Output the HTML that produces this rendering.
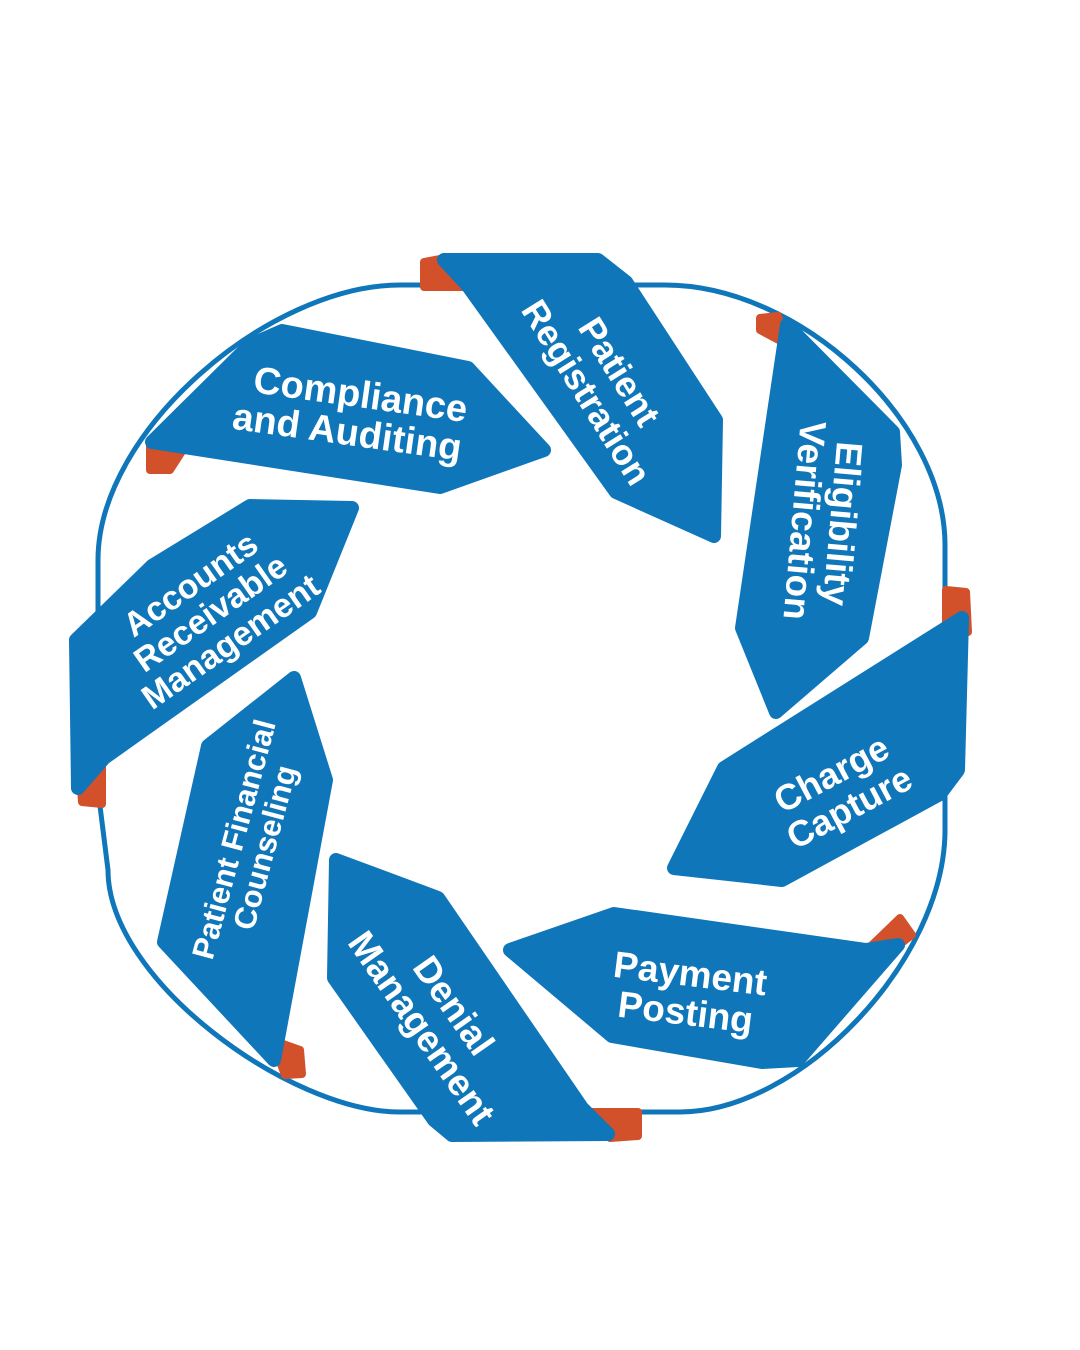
<!DOCTYPE html>
<html><head><meta charset="utf-8"><style>
html,body{margin:0;padding:0;background:#fff;}
svg{display:block;}
text{font-family:"Liberation Sans",sans-serif;font-weight:bold;fill:#fff;text-anchor:middle;}
</style></head><body>
<svg width="1080" height="1350" viewBox="0 0 1080 1350" xmlns="http://www.w3.org/2000/svg">
<path d="M400,285 L665,285 C800,285 945,420 945,545 L945,830 C945,960 800,1112 680,1112 L400,1112 C290,1112 108,980 108,870 L98,790 L98,560 C98,430 270,285 400,285 Z" fill="none" stroke="#0f76ba" stroke-width="5"/>
<g fill="#d2502a" stroke="#d2502a" stroke-width="8" stroke-linejoin="round">
<polygon points="424,262 445,258 466,287 424,287"/>
<polygon points="760,318 778,316 788,345 760,330"/>
<polygon points="946,590 966,592 968,632 946,632"/>
<polygon points="872,945 900,918 912,935 895,948"/>
<polygon points="592,1112 638,1112 638,1136 610,1138"/>
<polygon points="272,1040 300,1050 302,1074 285,1075"/>
<polygon points="80,775 102,762 102,804 82,802"/>
<polygon points="150,445 188,442 170,470 150,470"/>
</g>
<g fill="#0f76ba" stroke="#0f76ba" stroke-width="14" stroke-linejoin="round">
<polygon points="444,260 598,260 626,282 716,420 714,536 616,492 468,286"/>
<polygon points="787,325 893,432 895,465 862,638 776,712 742,628"/>
<polygon points="962,618 958,770 940,794 782,880 674,868 724,768"/>
<polygon points="898,945 798,1060 762,1062 612,1036 510,950 614,914 866,950"/>
<polygon points="336,860 438,898 582,1108 608,1134 452,1135 434,1120 334,978"/>
<polygon points="294,678 326,780 274,1060 164,942 208,746"/>
<polygon points="352,508 310,612 104,758 78,788 76,640 152,566 250,506"/>
<polygon points="282,331 468,368 544,450 440,487 152,442 250,345"/>
</g>
<text font-size="36" transform="translate(603,382) rotate(58)"><tspan x="0" y="-7">Patient</tspan><tspan x="0" y="32">Registration</tspan></text>
<text font-size="37" transform="translate(822,522) rotate(95)"><tspan x="0" y="-8">Eligibility</tspan><tspan x="0" y="30">Verification</tspan></text>
<text font-size="36" transform="translate(840,790) rotate(-28)"><tspan x="0" y="-6">Charge</tspan><tspan x="0" y="32">Capture</tspan></text>
<text font-size="37" transform="translate(688,992) rotate(7)"><tspan x="0" y="-6">Payment</tspan><tspan x="0" y="33">Posting</tspan></text>
<text font-size="37" transform="translate(436,1018) rotate(55)"><tspan x="0" y="-9">Denial</tspan><tspan x="0" y="30">Management</tspan></text>
<text font-size="31" transform="translate(248,843) rotate(-75)"><tspan x="0" y="-4">Patient Financial</tspan><tspan x="0" y="28">Counseling</tspan></text>
<text font-size="34" transform="translate(212,615) rotate(-35)"><tspan x="0" y="-26">Accounts</tspan><tspan x="0" y="9">Receivable</tspan><tspan x="0" y="44">Management</tspan></text>
<text font-size="38" transform="translate(350,412) rotate(8)"><tspan x="8" y="-6">Compliance</tspan><tspan x="0" y="33">and Auditing</tspan></text>
</svg>
</body></html>
